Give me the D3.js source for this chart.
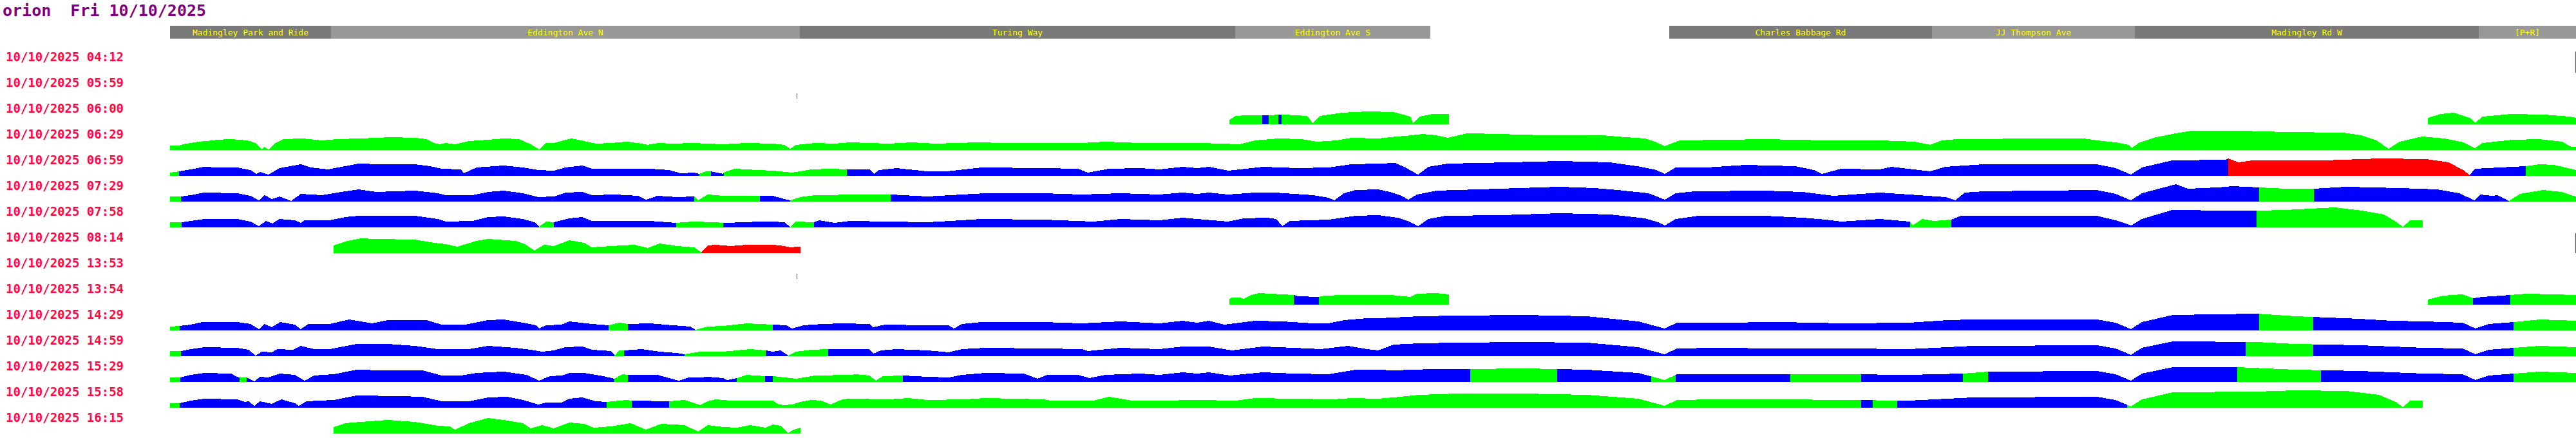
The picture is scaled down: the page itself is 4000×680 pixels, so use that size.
<!DOCTYPE html>
<html>
<head>
<meta charset="utf-8">
<script src="https://cdn.jsdelivr.net/npm/d3@7"></script>
<style>
  body { margin: 0; background: #fff; }
  svg { display: block; }
</style>
</head>
<body>
<div class="chart"></div>
<script>
// journey strip chart: one band per departure, route position along x

const title = 'orion  Fri 10/10/2025';
const day = '10/10/2025';
const times = ['04:12', '05:59', '06:00', '06:29', '06:59', '07:29', '07:58', '08:14',
  '13:53', '13:54', '14:29', '14:59', '15:29', '15:58', '16:15'];

// stops along the route: name, from, to (route units)
const stops = [
  ['Madingley Park and Ride', 0, 250],
  ['Eddington Ave N', 250, 978],
  ['Turing Way', 978, 1654],
  ['Eddington Ave S', 1654, 1957],
  ['Charles Babbage Rd', 2328, 2736],
  ['JJ Thompson Ave', 2736, 3051],
  ['Madingley Rd W', 3051, 3585],
  ['[P+R]', 3585, 3736]
];

// [route position, value]
const p0600a = [[1645,7],[1655,13],[1670,14],[1700,14],[1730,15],[1766,13],[1774,2],[1786,13],[1820,18],[1860,20],[1900,19],[1926,12],[1930,2],[1940,12],[1960,16],[1986,16]];
const p0600b = [[3506,10],[3526,16],[3546,18],[3571,10],[3579,2],[3591,12],[3636,16],[3686,15],[3726,12],[3736,10]];

const p0629 = [[0,7],[14,7],[20,9],[32,11],[44,13],[56,14],[74,16],[92,17],[110,16],[125,14],[134,10],[142,1],[146,5],[153,1],[164,11],[176,17],[206,18],[236,15],[260,17],[296,18],[320,19],[344,20],[380,19],[398,17],[410,11],[419,9],[428,11],[443,9],[464,14],[494,16],[518,18],[542,17],[560,9],[573,1],[584,11],[596,11],[623,18],[643,14],[661,10],[685,11],[709,13],[733,10],[742,8],[757,11],[781,10],[811,11],[859,9],[895,11],[936,10],[954,8],[963,2],[972,8],[1002,11],[1032,10],[1056,12],[1116,10],[1152,12],[1188,10],[1254,12],[1296,11],[1356,11],[1416,11],[1452,13],[1506,11],[1566,11],[1601,11],[1661,9],[1685,15],[1721,18],[1757,17],[1781,13],[1811,15],[1835,19],[1876,18],[1894,20],[1918,22],[1945,25],[1966,23],[1984,19],[2014,26],[2068,25],[2092,24],[2140,23],[2224,23],[2260,20],[2290,18],[2308,12],[2321,6],[2344,15],[2416,16],[2476,17],[2571,15],[2655,15],[2709,13],[2733,8],[2751,15],[2775,17],[2816,17],[2875,18],[2972,18],[2992,15],[3021,12],[3042,8],[3046,3],[3057,11],[3080,19],[3109,25],[3139,30],[3215,30],[3285,28],[3374,27],[3403,23],[3426,15],[3445,2],[3462,13],[3497,21],[3532,18],[3561,12],[3579,3],[3591,11],[3638,16],[3679,17],[3714,13],[3729,5],[3736,5]];

const p0659 = [[0,5],[14,7],[32,10],[53,14],[74,13],[104,13],[125,9],[134,3],[140,6],[153,2],[170,12],[203,18],[218,13],[245,10],[272,15],[293,19],[326,18],[380,18],[404,15],[422,11],[452,10],[456,4],[476,13],[518,16],[548,13],[572,9],[596,8],[614,13],[640,16],[655,11],[691,11],[745,11],[775,9],[793,4],[814,5],[822,3],[832,7],[840,7],[859,3],[861,6],[877,11],[913,9],[936,8],[966,5],[996,10],[1026,11],[1051,10],[1086,10],[1093,3],[1101,9],[1128,12],[1176,7],[1206,7],[1260,13],[1356,12],[1410,11],[1425,5],[1458,11],[1506,12],[1536,10],[1572,14],[1595,12],[1613,14],[1643,8],[1697,14],[1751,12],[1799,13],[1835,18],[1876,19],[1903,20],[1918,13],[1938,2],[1954,14],[1984,19],[2080,21],[2158,23],[2236,21],[2284,14],[2308,9],[2321,3],[2338,13],[2386,13],[2446,17],[2523,15],[2553,9],[2565,3],[2595,11],[2655,10],[2673,14],[2733,7],[2757,14],[2816,18],[2992,18],[3021,12],[3045,2],[3062,13],[3109,24],[3192,25],[3196,27],[3212,21],[3233,24],[3344,24],[3432,27],[3503,26],[3538,21],[3561,9],[3571,1],[3579,11],[3638,14],[3658,15],[3679,18],[3702,17],[3736,9]];

const p0729 = [[0,8],[17,8],[32,10],[53,14],[104,13],[125,9],[138,2],[147,10],[158,4],[170,8],[188,1],[203,12],[236,10],[272,16],[293,19],[320,15],[380,17],[416,13],[428,10],[470,10],[494,15],[518,17],[548,13],[572,7],[596,8],[614,14],[640,15],[655,10],[691,11],[727,9],[739,3],[757,9],[787,7],[814,8],[820,2],[835,11],[859,9],[916,9],[936,9],[954,4],[963,2],[978,7],[1002,10],[1074,11],[1119,11],[1176,8],[1212,10],[1266,13],[1356,13],[1416,11],[1476,13],[1536,11],[1572,14],[1595,12],[1613,14],[1643,11],[1685,14],[1715,14],[1775,10],[1799,6],[1808,2],[1823,13],[1841,18],[1876,19],[1894,15],[1912,9],[1923,3],[1936,11],[1966,17],[2032,19],[2158,23],[2212,21],[2248,18],[2296,13],[2321,3],[2338,13],[2368,16],[2476,17],[2535,15],[2583,9],[2655,14],[2715,10],[2757,7],[2772,2],[2787,14],[2816,16],[2992,18],[3021,12],[3045,2],[3062,13],[3092,21],[3115,27],[3133,20],[3180,22],[3203,24],[3244,22],[3285,20],[3329,20],[3379,23],[3462,21],[3520,19],[3555,13],[3578,2],[3588,11],[3605,9],[3614,10],[3632,1],[3649,12],[3685,18],[3714,15],[3731,9],[3736,8]];

const p0758 = [[0,8],[18,8],[32,10],[53,13],[104,13],[125,9],[138,2],[149,10],[159,6],[170,13],[194,11],[203,7],[209,11],[248,11],[272,16],[293,18],[320,18],[380,18],[416,13],[428,9],[470,10],[494,16],[518,17],[548,13],[566,8],[573,1],[584,9],[596,8],[620,14],[640,16],[655,10],[679,10],[745,10],[786,7],[811,9],[847,8],[859,7],[895,8],[913,9],[936,9],[954,8],[963,1],[972,9],[1000,8],[1008,11],[1032,7],[1056,10],[1116,9],[1176,8],[1212,10],[1260,13],[1356,12],[1434,9],[1476,13],[1536,11],[1572,15],[1595,13],[1643,9],[1667,14],[1703,15],[1718,13],[1727,2],[1739,10],[1799,12],[1841,18],[1876,19],[1906,15],[1924,9],[1938,2],[1954,13],[1981,18],[2068,19],[2158,22],[2236,20],[2290,14],[2311,8],[2321,3],[2338,13],[2374,18],[2476,18],[2535,15],[2571,12],[2595,9],[2655,13],[2702,9],[2706,3],[2721,13],[2739,10],[2766,12],[2781,18],[2816,18],[2992,18],[3021,11],[3045,3],[3062,13],[3109,27],[3197,26],[3240,26],[3285,27],[3362,31],[3403,26],[3438,20],[3456,9],[3467,1],[3479,11],[3498,11]];

const p0814 = [[254,12],[272,18],[296,23],[320,22],[380,21],[410,16],[428,14],[446,10],[476,19],[494,22],[536,19],[551,14],[566,4],[581,13],[596,11],[620,20],[643,16],[655,9],[685,11],[721,13],[742,8],[760,15],[787,11],[814,9],[825,1],[835,12],[847,13],[871,11],[895,13],[936,13],[954,11],[963,9],[975,10],[979,10]];

const p1354a = [[1645,9],[1649,11],[1661,11],[1667,9],[1679,15],[1691,18],[1745,15],[1751,13],[1784,12],[1793,14],[1823,15],[1876,15],[1896,15],[1926,12],[1936,17],[1966,18],[1986,16]];
const p1354b = [[3506,8],[3530,14],[3560,16],[3576,10],[3590,12],[3620,14],[3660,17],[3700,16],[3736,15]];

const p1429 = [[0,6],[15,7],[32,9],[50,13],[104,13],[125,10],[138,2],[147,10],[158,5],[171,13],[194,9],[203,2],[215,10],[248,10],[278,17],[314,11],[338,16],[398,16],[422,9],[458,9],[494,16],[518,17],[548,12],[569,8],[573,3],[584,8],[608,9],[620,14],[655,10],[681,8],[697,12],[711,10],[745,11],[781,8],[808,6],[816,1],[835,6],[859,7],[895,11],[936,9],[957,8],[966,3],[984,8],[1014,10],[1044,11],[1086,10],[1092,5],[1110,9],[1176,8],[1209,8],[1217,3],[1230,10],[1260,13],[1356,13],[1416,11],[1476,14],[1536,11],[1572,15],[1595,12],[1613,15],[1637,9],[1685,15],[1727,14],[1775,11],[1799,11],[1823,16],[1859,19],[1876,19],[1900,20],[1940,22],[2000,23],[2100,24],[2200,22],[2280,14],[2321,3],[2340,12],[2400,12],[2500,13],[2600,11],[2700,12],[2760,16],[2800,17],[2992,17],[3021,12],[3045,2],[3062,13],[3110,24],[3240,26],[3300,22],[3400,18],[3450,15],[3500,14],[3560,12],[3580,3],[3600,10],[3640,13],[3680,17],[3736,15]];

const p1459 = [[0,8],[17,8],[32,11],[53,14],[104,13],[122,10],[133,1],[143,7],[158,6],[167,11],[191,10],[203,16],[224,11],[248,11],[290,19],[338,19],[380,16],[416,11],[464,11],[494,16],[536,13],[560,10],[578,7],[596,9],[614,14],[640,15],[655,10],[685,8],[691,1],[697,9],[705,9],[733,11],[760,7],[787,5],[799,3],[823,7],[859,7],[901,11],[925,9],[936,7],[948,9],[960,1],[972,7],[996,10],[1022,11],[1086,11],[1092,4],[1104,9],[1128,11],[1176,9],[1209,6],[1230,11],[1266,13],[1356,12],[1416,11],[1425,8],[1476,13],[1536,11],[1572,15],[1613,15],[1649,9],[1697,15],[1745,13],[1787,11],[1829,16],[1859,11],[1876,9],[1900,18],[1940,20],[2000,21],[2100,22],[2200,21],[2280,14],[2321,3],[2340,12],[2400,13],[2500,12],[2600,12],[2700,11],[2760,14],[2800,16],[2992,17],[3021,12],[3045,2],[3062,13],[3110,23],[3240,22],[3300,19],[3400,17],[3450,15],[3500,13],[3560,12],[3580,3],[3600,10],[3640,13],[3680,16],[3736,14]];

const p1529 = [[0,7],[16,7],[32,11],[53,14],[95,13],[104,8],[108,7],[119,7],[131,1],[140,8],[152,7],[170,13],[194,11],[209,2],[224,10],[254,12],[290,19],[332,18],[392,18],[422,10],[452,10],[476,14],[518,16],[554,11],[573,2],[590,9],[608,10],[620,14],[643,14],[673,9],[690,5],[703,12],[711,11],[757,11],[790,2],[805,7],[823,7],[835,8],[859,6],[865,3],[880,6],[895,11],[924,9],[936,9],[954,7],[972,5],[1002,10],[1056,11],[1065,12],[1086,10],[1096,2],[1107,9],[1138,10],[1176,8],[1209,7],[1230,11],[1266,14],[1326,13],[1347,5],[1362,11],[1410,11],[1428,6],[1452,11],[1506,13],[1536,11],[1572,15],[1595,13],[1613,15],[1646,10],[1697,15],[1745,13],[1799,12],[1841,19],[1876,19],[1900,18],[1960,20],[2019,20],[2100,21],[2154,20],[2200,19],[2280,14],[2321,3],[2340,12],[2400,12],[2516,12],[2600,12],[2700,11],[2784,13],[2823,16],[2992,17],[3021,12],[3045,2],[3062,13],[3110,23],[3210,23],[3300,19],[3400,17],[3450,15],[3500,13],[3560,12],[3580,3],[3600,10],[3640,13],[3680,16],[3736,14]];

const p1558 = [[0,7],[15,7],[32,11],[53,14],[104,13],[116,9],[122,10],[131,3],[140,10],[158,6],[173,13],[194,7],[200,3],[212,10],[254,12],[290,19],[356,18],[392,17],[422,10],[464,10],[494,16],[524,17],[548,12],[572,5],[584,8],[608,8],[620,14],[640,16],[661,10],[678,9],[709,12],[717,11],[775,10],[799,12],[823,4],[835,10],[847,13],[871,11],[936,11],[945,5],[954,4],[966,5],[978,9],[996,12],[1011,11],[1026,5],[1044,13],[1056,14],[1116,13],[1146,15],[1176,12],[1236,13],[1266,15],[1356,13],[1368,11],[1434,11],[1458,17],[1494,11],[1536,11],[1595,12],[1655,11],[1685,15],[1745,14],[1805,13],[1835,15],[1876,14],[1900,16],[1940,20],[2000,22],[2100,22],[2200,20],[2280,14],[2321,3],[2340,12],[2400,13],[2500,13],[2600,12],[2700,11],[2760,14],[2800,16],[2992,17],[3021,12],[3045,2],[3062,13],[3110,24],[3240,25],[3300,27],[3380,26],[3430,20],[3456,9],[3467,1],[3479,11],[3498,11]];

const p1615 = [[254,10],[272,16],[296,18],[338,21],[380,18],[416,12],[434,11],[443,6],[464,16],[494,24],[518,21],[548,16],[560,8],[578,13],[596,8],[620,17],[643,15],[658,9],[685,11],[715,16],[739,6],[763,15],[799,13],[820,3],[835,13],[859,10],[880,9],[901,13],[925,9],[936,14],[948,12],[960,1],[969,6],[979,9]];

// running state per stretch: from, to, state (g on time, b late, r very late)
const s0600a = [[1645,1696,'g'],[1696,1706,'b'],[1706,1721,'g'],[1721,1726,'b'],[1726,1986,'g']];
const s0600b = [[3506,3736,'g']];
const s0629 = [[0,3736,'g']];
const s0659 = [[0,14,'g'],[14,822,'b'],[822,840,'g'],[840,860,'b'],[860,1051,'g'],[1051,3196,'b'],[3196,3571,'r'],[3571,3658,'b'],[3658,3736,'g']];
const s0729 = [[0,17,'g'],[17,814,'b'],[814,916,'g'],[916,963,'b'],[963,1119,'g'],[1119,3244,'b'],[3244,3329,'g'],[3329,3632,'b'],[3632,3736,'g']];
const s0758 = [[0,18,'g'],[18,573,'b'],[573,596,'g'],[596,786,'b'],[786,859,'g'],[859,963,'b'],[963,1000,'g'],[1000,2702,'b'],[2702,2766,'g'],[2766,3240,'b'],[3240,3498,'g']];
const s0814 = [[254,825,'g'],[825,979,'r']];
const s1354a = [[1645,1745,'g'],[1745,1784,'b'],[1784,1986,'g']];
const s1354b = [[3506,3576,'g'],[3576,3634,'b'],[3634,3736,'g']];
const s1429 = [[0,15,'g'],[15,681,'b'],[681,711,'g'],[711,816,'b'],[816,936,'g'],[936,3244,'b'],[3244,3328,'g'],[3328,3639,'b'],[3639,3736,'g']];
const s1459 = [[0,17,'g'],[17,690,'b'],[690,705,'g'],[705,799,'b'],[799,925,'g'],[925,960,'b'],[960,1022,'g'],[1022,3223,'b'],[3223,3328,'g'],[3328,3639,'b'],[3639,3736,'g']];
const s1529 = [[0,16,'g'],[16,108,'b'],[108,119,'g'],[119,690,'b'],[690,711,'g'],[711,880,'b'],[880,924,'g'],[924,936,'b'],[936,1138,'g'],[1138,2019,'b'],[2019,2154,'g'],[2154,2300,'b'],[2300,2338,'g'],[2338,2516,'b'],[2516,2626,'g'],[2626,2784,'b'],[2784,2823,'g'],[2823,3210,'b'],[3210,3340,'g'],[3340,3639,'b'],[3639,3736,'g']];
const s1558 = [[0,15,'g'],[15,678,'b'],[678,717,'g'],[717,775,'b'],[775,2626,'g'],[2626,2644,'b'],[2644,2682,'g'],[2682,3039,'b'],[3039,3498,'g']];
const s1615 = [[254,979,'g']];

// lone position fixes: row, route position, value, state
const ticks = [[1, 973, 8, 'k'], [8, 973, 8, 'k'], [0, 3735, 33, 'k'], [7, 3735, 31, 'r']];

const bands = [
  { row: 2, pts: p0600a, segs: s0600a },
  { row: 2, pts: p0600b, segs: s0600b },
  { row: 3, pts: p0629, segs: s0629 },
  { row: 4, pts: p0659, segs: s0659 },
  { row: 5, pts: p0729, segs: s0729 },
  { row: 6, pts: p0758, segs: s0758 },
  { row: 7, pts: p0814, segs: s0814 },
  { row: 9, pts: p1354a, segs: s1354a },
  { row: 9, pts: p1354b, segs: s1354b },
  { row: 10, pts: p1429, segs: s1429 },
  { row: 11, pts: p1459, segs: s1459 },
  { row: 12, pts: p1529, segs: s1529 },
  { row: 13, pts: p1558, segs: s1558 },
  { row: 14, pts: p1615, segs: s1615 }
];

const width = 4000;
const height = 680;
const routeLeft = 264;
const rowTop = 73;
const rowStep = 40;
const bandBottom = 40;

const svg = d3.select('.chart')
  .append('svg')
    .attr('width', width)
    .attr('height', height);

const x = d3.scaleLinear().domain([0, 3736]).range([routeLeft, width]);
const h = d3.scaleLinear().domain([0, 30]).range([0, 30]);
const colour = d3.scaleOrdinal().domain(['g', 'b', 'r', 'k']).range(['#00ff00', '#0000ff', '#ff0000', '#555555']);
const rowY = i => rowTop + i * rowStep;

svg.append('text')
  .attr('x', 4)
  .attr('y', 25)
  .attr('fill', '#800080')
  .style('font', 'bold 25px "DejaVu Sans Mono", monospace')
  .style('white-space', 'pre')
  .text(title);

// stop header
const head = svg.append('g').attr('transform', 'translate(0, 40)');
head.selectAll('rect')
  .data(stops)
  .join('rect')
    .attr('x', d => x(d[1]))
    .attr('width', d => x(d[2]) - x(d[1]))
    .attr('height', 20)
    .attr('fill', (d, i) => i % 2 ? '#989898' : '#7a7a7a')
    .attr('shape-rendering', 'crispEdges');
head.selectAll('text')
  .data(stops)
  .join('text')
    .attr('x', d => (x(d[1]) + x(d[2])) / 2)
    .attr('y', 15)
    .attr('text-anchor', 'middle')
    .attr('fill', '#ffff00')
    .style('font', '13px "DejaVu Sans Mono", monospace')
    .text(d => d[0]);

// departure labels
svg.append('g').selectAll('text')
  .data(times)
  .join('text')
    .attr('x', 9)
    .attr('y', (d, i) => rowY(i) + 22)
    .attr('fill', '#ff0844')
    .style('font', 'bold 19px "DejaVu Sans Mono", monospace')
    .text(d => day + ' ' + d);

const defs = svg.append('defs');
const bandG = svg.append('g');

bands.forEach((b, bi) => {
  const base = rowY(b.row) + bandBottom;
  const area = d3.area()
    .x(d => x(d[0]))
    .y0(base)
    .y1(d => base - h(d[1]));
  b.segs.forEach((s, si) => {
    const id = `clip-${bi}-${si}`;
    defs.append('clipPath').attr('id', id)
      .append('rect')
        .attr('x', x(s[0]))
        .attr('y', base - 40)
        .attr('width', x(s[1]) - x(s[0]))
        .attr('height', 40);
    bandG.append('path')
      .datum(b.pts)
      .attr('d', area)
      .attr('fill', colour(s[2]))
      .attr('shape-rendering', 'crispEdges')
      .attr('clip-path', `url(#${id})`);
  });
});

svg.append('g').selectAll('rect')
  .data(ticks)
  .join('rect')
    .attr('x', d => x(d[1]))
    .attr('y', d => rowY(d[0]) + bandBottom - h(d[2]))
    .attr('width', 1)
    .attr('height', d => h(d[2]))
    .attr('fill', d => colour(d[3]))
    .attr('shape-rendering', 'crispEdges');
</script>
</body>
</html>
